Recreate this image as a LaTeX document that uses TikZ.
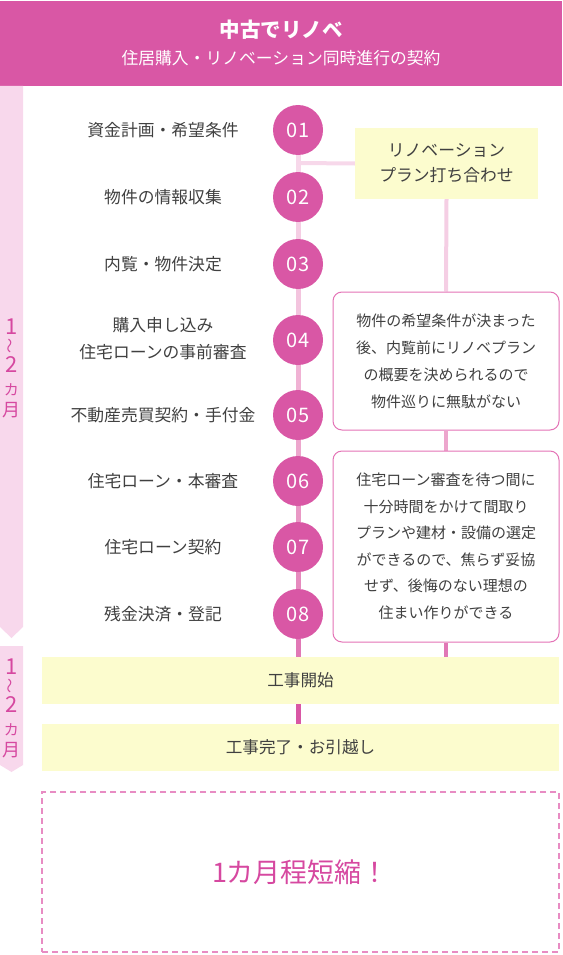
\documentclass[tikz,border=0pt]{standalone}
\usepackage{fontspec}
\setmainfont{Noto Sans CJK JP}
\usetikzlibrary{positioning}
\pgfdeclarelayer{background}
\pgfsetlayers{background,main}
\definecolor{hdr}{RGB}{217,87,165}
\definecolor{barpink}{RGB}{248,216,236}
\definecolor{txt}{RGB}{64,64,64}
\definecolor{ylw}{RGB}{252,252,206}
\definecolor{bord}{RGB}{228,115,182}
\definecolor{numpink}{RGB}{214,72,160}
\definecolor{sa}{RGB}{247,216,234}
\definecolor{sb}{RGB}{245,206,228}
\definecolor{sc}{RGB}{243,196,222}
\definecolor{sd}{RGB}{240,178,212}
\definecolor{se}{RGB}{237,166,205}
\definecolor{sf}{RGB}{233,152,197}
\definecolor{sg}{RGB}{230,138,190}
\definecolor{sh}{RGB}{225,120,182}
\definecolor{si}{RGB}{217,87,165}
\definecolor{dash}{RGB}{232,140,195}
\tikzset{
  circ/.style={circle, fill=hdr, minimum size=50pt, inner sep=0pt, text=white, font=\fontsize{20}{20}\selectfont},
  lbl/.style={text=txt, align=center, font=\fontsize{16.8}{27}\selectfont},
  planbox/.style={fill=ylw, minimum width=183pt, minimum height=71pt, inner sep=0pt, text=txt, align=center, font=\fontsize{16.8}{25}\selectfont},
  notebox/.style={draw=bord, line width=1pt, fill=white, rounded corners=9pt, minimum width=226pt, inner sep=0pt, text=txt, align=center},
  stagebox/.style={fill=ylw, minimum width=517pt, minimum height=47pt, inner sep=0pt, text=txt, font=\fontsize{16.6}{16.6}\selectfont},
  seg/.style={line width=5pt},
  rseg/.style={line width=4pt},
  vt/.style={text=numpink, inner sep=0pt},
}
\begin{document}
\begin{tikzpicture}[x=1pt,y=-1pt]
\useasboundingbox (0,0) rectangle (562,955);
% header
\node[fill=hdr, minimum width=562pt, minimum height=85pt, inner sep=0pt, anchor=north] (header) at (281,1) {};
\node[text=white, font=\fontsize{20.5}{20.5}\selectfont\bfseries] (title) at (281,30) {中古でリノベ};
\node[text=white, font=\fontsize{16.8}{16.8}\selectfont] (subtitle) at (281,58) {住居購入・リノベーション同時進行の契約};
% left bars
\fill[barpink] (0,86) -- (23,86) -- (23,627) -- (11.5,638) -- (0,627) -- cycle;
\fill[barpink] (0,646) -- (23,646) -- (23,765) -- (11.5,772) -- (0,765) -- cycle;
\foreach \o/\n in {0/a,340/b}{
  \node[vt, font=\fontsize{22}{22}\selectfont] (one\n) at (11.5,327+\o) {1};
  \node[vt, font=\fontsize{15}{15}\selectfont, rotate=90] (wave\n) at (11.5,346+\o) {～};
  \node[vt, font=\fontsize{22}{22}\selectfont] (two\n) at (11.5,365+\o) {2};
  \node[vt, font=\fontsize{15}{15}\selectfont] (ka\n) at (11.5,390+\o) {カ};
  \node[vt, font=\fontsize{18}{18}\selectfont] (tsuki\n) at (11.5,410+\o) {月};
}
% circles
\node[circ] (c1) at (298,130) {01};
\node[circ] (c2) at (298,197) {02};
\node[circ] (c3) at (298,264) {03};
\node[circ] (c4) at (298,340) {04};
\node[circ] (c5) at (298,415) {05};
\node[circ] (c6) at (298,481) {06};
\node[circ] (c7) at (298,547) {07};
\node[circ] (c8) at (298,614) {08};
% labels
\node[lbl] (l1) at (163,130) {資金計画・希望条件};
\node[lbl] (l2) at (163,197) {物件の情報収集};
\node[lbl] (l3) at (163,264) {内覧・物件決定};
\node[lbl] (l4) at (163,339) {購入申し込み\\住宅ローンの事前審査};
\node[lbl] (l5) at (163,415) {不動産売買契約・手付金};
\node[lbl] (l6) at (163,481) {住宅ローン・本審査};
\node[lbl] (l7) at (163,547) {住宅ローン契約};
\node[lbl] (l8) at (163,614) {残金決済・登記};
% right boxes
\node[planbox] (plan) at (446.5,163.5) {リノベーション\\プラン打ち合わせ};
\node[notebox, minimum height=138pt, font=\fontsize{15}{27}\selectfont] (b1) at (446,361) {物件の希望条件が決まった\\後、内覧前にリノベプラン\\の概要を決められるので\\物件巡りに無駄がない};
\node[notebox, minimum height=191pt, font=\fontsize{15}{26.5}\selectfont] (b2) at (446,546.5) {住宅ローン審査を待つ間に\\十分時間をかけて間取り\\プランや建材・設備の選定\\ができるので、焦らず妥協\\せず、後悔のない理想の\\住まい作りができる};
% stage boxes
\node[stagebox] (k1) at (300.5,680.5) {工事開始};
\node[stagebox] (k2) at (300.5,747.5) {工事完了・お引越し};
% result box
\node[draw=dash, line width=1.3pt, dash pattern=on 6pt off 4pt, minimum width=517pt, minimum height=160pt, inner sep=0pt, text=numpink, font=\fontsize{27}{27}\selectfont] (res) at (300.5,872) {1カ月程短縮！};
\coordinate (j) at (298,163);
% connectors
\begin{pgfonlayer}{background}
\draw[seg, sa] (c1) -- (c2);
\draw[seg, sb] (c2) -- (c3);
\draw[seg, sc] (c3) -- (c4);
\draw[seg, sd] (c4) -- (c5);
\draw[seg, se] (c5) -- (c6);
\draw[seg, sf] (c6) -- (c7);
\draw[seg, sg] (c7) -- (c8);
\draw[seg, sh] (c8) -- (c8 |- k1.north);
\draw[seg, si] (c8 |- k1.south) -- (c8 |- k2.north);
\draw[rseg, sa] (j) -- (plan.west);
\draw[rseg, sb] (plan.south) -- (b1.north);
\draw[rseg, se] (b1.south) -- (b2.north);
\draw[rseg, sh] (b2.south) -- (b2.south |- k1.north);
\end{pgfonlayer}
\end{tikzpicture}
\end{document}
